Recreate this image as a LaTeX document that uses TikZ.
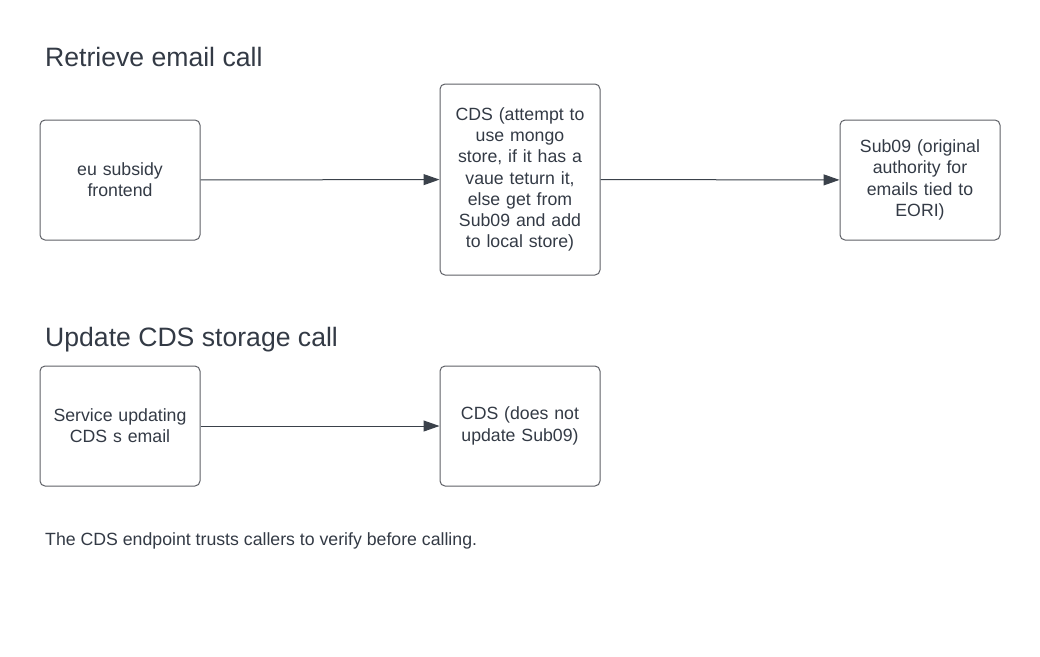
\documentclass[tikz,border=0pt]{standalone}
\usepackage{fontspec}
\setmainfont{Liberation Sans}
\usetikzlibrary{arrows.meta}
\definecolor{txt}{HTML}{333A45}
\definecolor{edge}{HTML}{5E6066}
\definecolor{arr}{HTML}{3A414A}
\begin{document}
\begin{tikzpicture}[x=1pt,y=-1pt,
  box/.style={draw=edge,line width=1pt,rounded corners=5pt,minimum width=160pt,
    text width=154pt,align=center,font=\fontsize{17.7}{21.2}\selectfont,text=txt,inner sep=0pt},
  title/.style={anchor=base west,font=\fontsize{26.6}{30}\selectfont,text=txt,inner sep=0pt},
  conn/.style={draw=arr,line width=1pt,-{Triangle[length=16pt,width=11pt]}}]
\useasboundingbox (0,0) rectangle (1040,656);
\node[title] (t1) at (45,66) {Retrieve email call};
\node[title] (t2) at (45,346) {Update CDS storage call};
\node[box,minimum height=120pt] (a) at (120,180) {eu subsidy\\frontend};
\node[box,minimum height=191pt] (b) at (520,179.5) {CDS (attempt to\\use mongo\\store, if it has a\\vaue teturn it,\\else get from\\Sub09 and add\\to local store)};
\node[box,minimum height=120pt] (c) at (920,180) {Sub09 (original\\authority for\\emails tied to\\EORI)};
\node[box,minimum height=120pt] (d) at (120,426) {Service updating\\CDS s email};
\node[box,minimum height=120pt] (e) at (520,426) {CDS (does not\\update Sub09)};
\draw[conn] (a) -- (b);
\draw[conn] (b) -- (c);
\draw[conn] (d) -- (e);
\node[anchor=base west,font=\fontsize{17.7}{21}\selectfont,text=txt,inner sep=0pt] (f) at (45,545) {The CDS endpoint trusts callers to verify before calling.};
\end{tikzpicture}
\end{document}
